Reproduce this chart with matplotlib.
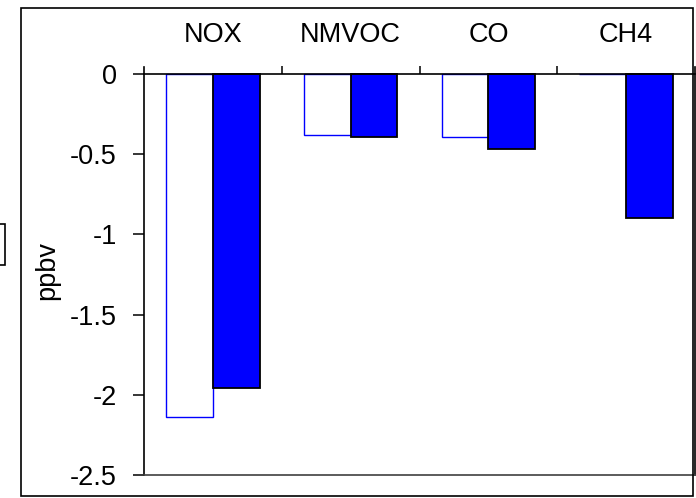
import numpy as np
import matplotlib.pyplot as plt
from matplotlib.patches import Rectangle

plt.rcParams['font.family'] = ['Liberation Sans', 'DejaVu Sans']

# Data (ppbv)
species = ["NOX", "NMVOC", "CO", "CH4"]
run_a = [-2.14, -0.38, -0.39, 0.0]    # open bars
run_b = [-1.96, -0.39, -0.47, -0.90]  # filled bars

fs = 19.5
x = np.arange(len(species))
w = 0.34

fig = plt.figure(figsize=(6.96, 4.98), dpi=100)
ax = fig.add_axes([144/696, 1 - 475/498, 551/696, (475 - 67)/498])

ax.bar(x - w/2, run_a, w, color='white', edgecolor='#0000ff', linewidth=1.0, zorder=2)
ax.bar(x + w/2, run_b, w, color='#0000ff', edgecolor='black', linewidth=1.3, zorder=2)

ax.set_xlim(-0.5, 3.5)
ax.set_ylim(-2.5, 0.044)
ax.set_yticks([0, -0.5, -1, -1.5, -2, -2.5])
ax.set_yticklabels(["0", "-0.5", "-1", "-1.5", "-2", "-2.5"])
ax.tick_params(axis='y', direction='out', length=8, width=1.1, pad=11.5, labelsize=fs)
ax.set_ylabel("ppbv", fontsize=fs, labelpad=7)

# x axis drawn along y = 0 with ticks between categories
ax.spines['top'].set_position(('data', 0))
ax.spines['top'].set_linewidth(1.2)
ax.xaxis.set_ticks_position('top')
ax.set_xticks([0.5, 1.5, 2.5])
ax.set_xticklabels([])
ax.set_xticks(x, minor=True)
ax.set_xticklabels(species, minor=True)
ax.tick_params(axis='x', which='major', direction='out', length=6, width=1.1,
               top=True, bottom=False, labeltop=False, labelbottom=False)
ax.tick_params(axis='x', which='minor', length=0, top=True, bottom=False,
               labeltop=True, labelbottom=False, pad=19, labelsize=fs)

for s in ['left', 'right', 'bottom']:
    ax.spines[s].set_linewidth(1.2)
ax.spines['bottom'].set_color('#404040')

# outer chart border and the clipped box at the left edge
fig.patches.append(Rectangle((21/696, 2/498), (693 - 21)/696, (496 - 8)/498,
                             transform=fig.transFigure, fill=False,
                             edgecolor='black', linewidth=1.2))
fig.patches.append(Rectangle((-0.02, 1 - 265/498), 0.02 + 5/696, 41/498,
                             transform=fig.transFigure, fill=False,
                             edgecolor='black', linewidth=1.2))

fig.savefig("out.png", dpi=100)
